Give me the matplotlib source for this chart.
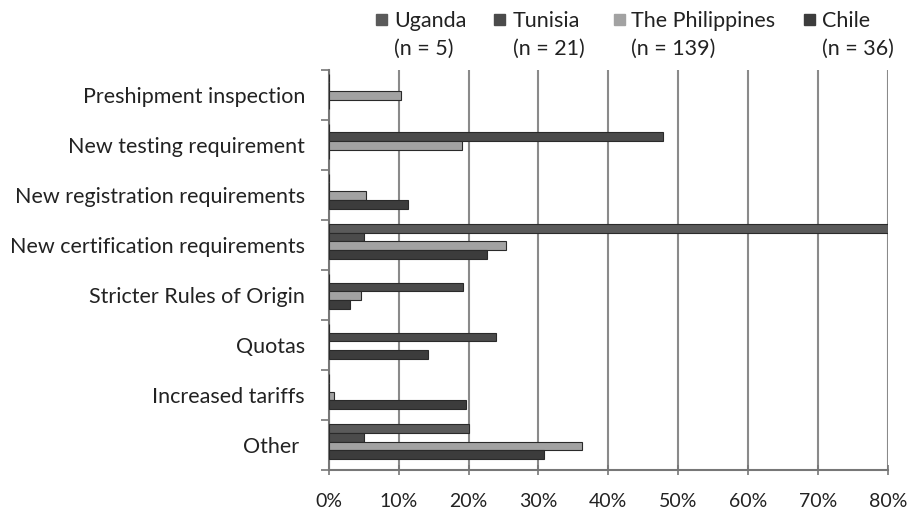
import numpy as np
import matplotlib
matplotlib.use('Agg')
import matplotlib.pyplot as plt
from matplotlib.patches import Rectangle

plt.rcParams['font.family'] = ['Lato', 'DejaVu Sans']

# categories, top to bottom
categories = ['Preshipment inspection', 'New testing requirement',
              'New registration requirements', 'New certification requirements',
              'Stricter Rules of Origin', 'Quotas', 'Increased tariffs', 'Other ']
countries = ['Uganda', 'Tunisia', 'The Philippines', 'Chile']
n_labels = ['(n = 5)', '(n = 21)', '(n = 139)', '(n = 36)']

# shares of firms (fraction)
uganda = [0.0, 0.0, 0.0, 0.80, 0.0, 0.0, 0.0, 0.20]
tunisia = [0.0, 0.478, 0.0, 0.05, 0.192, 0.24, 0.0, 0.05]
philippines = [0.104, 0.19, 0.054, 0.254, 0.046, 0.0, 0.008, 0.362]
chile = [0.0, 0.0, 0.114, 0.226, 0.031, 0.142, 0.197, 0.308]

series = [uganda, tunisia, philippines, chile]
colors = ['#5a5a5a', '#4b4b4b', '#a2a2a2', '#3c3c3c']

fig = plt.figure(figsize=(9.08, 5.15), dpi=100)
ax = fig.add_axes([0.362, 0.087, 0.616, 0.778])

y = np.arange(len(categories))
h = 0.175
for j, (vals, c) in enumerate(zip(series, colors)):
    ax.barh(y + (j - 1.5) * h - 0.07, vals, height=h, color=c,
            edgecolor='#2a2a2a', linewidth=0.8, zorder=3)

ax.set_xlim(0, 0.8)
ax.set_ylim(len(categories) - 0.5, -0.5)
ax.set_xticks(np.arange(0, 0.81, 0.1))
ax.set_xticklabels(['%d%%' % v for v in range(0, 81, 10)], fontsize=14, color='#222222')
ax.set_yticks(y)
ax.set_yticklabels(categories, fontsize=15.5, color='#222222')
ax.set_yticks(np.arange(len(categories) + 1) - 0.5, minor=True)
ax.tick_params(axis='y', which='major', length=0, pad=17)
ax.tick_params(axis='y', which='minor', length=6, color='#777777', width=1.2)
ax.tick_params(axis='x', length=7, color='#777777', width=1.2, pad=13, direction='inout')
ax.grid(True, axis='x', color='#8a8a8a', linewidth=1.5, zorder=0)
for s in ['top', 'right']:
    ax.spines[s].set_visible(False)
ax.spines['left'].set_color('#777777')
ax.spines['left'].set_linewidth(1.5)
ax.spines['bottom'].set_color('#777777')
ax.spines['bottom'].set_linewidth(1.5)

# legend, two lines per entry
sq_x = [0.414, 0.544, 0.676, 0.886]
txt_x = [0.434, 0.565, 0.695, 0.905]
for sx, tx, name, nl, c in zip(sq_x, txt_x, countries, n_labels, colors):
    fig.patches.append(Rectangle((sx, 0.951), 0.0121, 0.0214, transform=fig.transFigure,
                                 color=c, figure=fig))
    fig.text(tx, 0.959, name, fontsize=15.5, color='#222222', va='center')
    fig.text(tx, 0.905, nl, fontsize=15.5, color='#222222', va='center')

plt.savefig('out.png', dpi=100)
plt.close()
